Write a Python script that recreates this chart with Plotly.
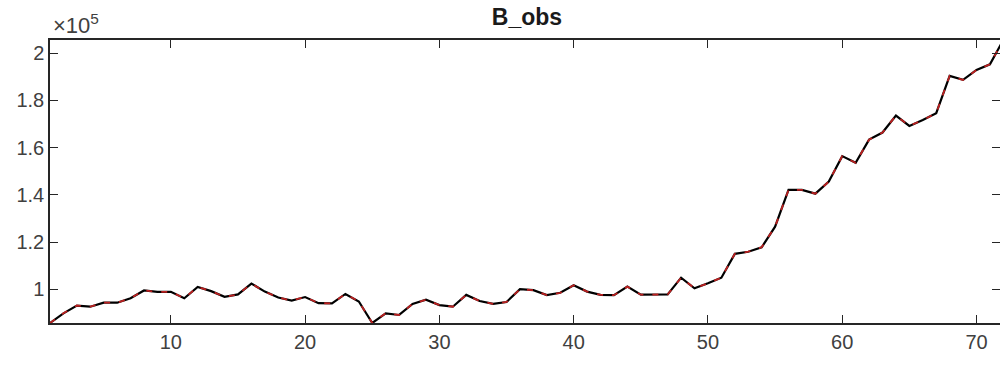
import plotly.graph_objects as go

# Observed series B_obs (72 periods)
periods = list(range(1, 73))
b_obs = [
    85700, 89800, 93100, 92600, 94300, 94300, 96200, 99500, 98900, 98900,
    96200, 101000, 99200, 96800, 97800, 102400, 99000, 96500, 95200, 96700,
    94100, 94000, 98000, 94800, 85700, 89800, 89100, 93800, 95600, 93300,
    92600, 97600, 95000, 93800, 94600, 100000, 99600, 97500, 98500, 101700,
    99000, 97600, 97500, 101100, 97700, 97700, 97800, 104900, 100400, 102500,
    104900, 115000, 115900, 117800, 126500, 142100, 142100, 140500, 145600, 156400,
    153600, 163400, 166400, 173600, 169200, 171700, 174600, 190400, 188700, 192900,
    195300, 205600,
]

x_ticks = [10, 20, 30, 40, 50, 60, 70]
y_ticks = [100000, 120000, 140000, 160000, 180000, 200000]
y_tick_labels = ["1", "1.2", "1.4", "1.6", "1.8", "2"]

axis_color = "#262626"
label_color = "#404040"
font_family = "Arial, Liberation Sans, Helvetica, sans-serif"
y_range = [85700, 205600]

fig = go.Figure()
fig.add_trace(go.Scatter(
    x=periods, y=b_obs, mode="lines",
    line=dict(color="black", width=2.2),
    hoverinfo="skip", showlegend=False,
))
fig.add_trace(go.Scatter(
    x=periods, y=b_obs, mode="lines",
    line=dict(color="rgba(235,40,40,0.8)", width=1.8, dash="6px,9px"),
    hoverinfo="skip", showlegend=False,
))

fig.update_layout(
    width=1000, height=365,
    margin=dict(l=50, r=0, t=40, b=42),
    paper_bgcolor="white", plot_bgcolor="white",
    font=dict(family=font_family, size=20, color=label_color),
    title=dict(
        text="<b>B_obs</b>", x=0.527, xanchor="center", y=0.975, yanchor="top",
        font=dict(family=font_family, size=23, color="#1a1a1a"),
    ),
    showlegend=False,
)

fig.update_xaxes(
    range=[1, 71.75],
    tickvals=x_ticks,
    ticks="inside", ticklen=8, tickwidth=1, tickcolor=axis_color,
    showline=True, linecolor=axis_color, linewidth=1.5, mirror="ticks",
    showgrid=False, zeroline=False,
    tickfont=dict(size=20, color=label_color),
)
fig.update_yaxes(
    range=y_range,
    tickvals=y_ticks, ticktext=y_tick_labels,
    ticks="inside", ticklen=8, tickwidth=1, tickcolor=axis_color,
    showline=True, linecolor=axis_color, linewidth=1.5, mirror=False,
    showgrid=False, zeroline=False,
    tickfont=dict(size=20, color=label_color),
)

# right-hand tick marks (the right border itself lies past the visible edge)
fig.update_layout(yaxis2=dict(
    overlaying="y", side="right", range=y_range,
    tickvals=y_ticks, showticklabels=False,
    ticks="inside", ticklen=8, tickwidth=1, tickcolor=axis_color,
    showline=False, showgrid=False, zeroline=False,
))
fig.add_trace(go.Scatter(
    x=[None], y=[None], yaxis="y2", mode="lines",
    hoverinfo="skip", showlegend=False,
))

# exponent marker above the y axis
fig.add_annotation(
    x=0, xref="paper", xanchor="left", y=1.0, yref="paper", yanchor="bottom",
    text="×10<sup>5</sup>", showarrow=False,
    font=dict(family=font_family, size=22, color=label_color),
    xshift=1, yshift=0,
)

fig.write_html("out.html")
